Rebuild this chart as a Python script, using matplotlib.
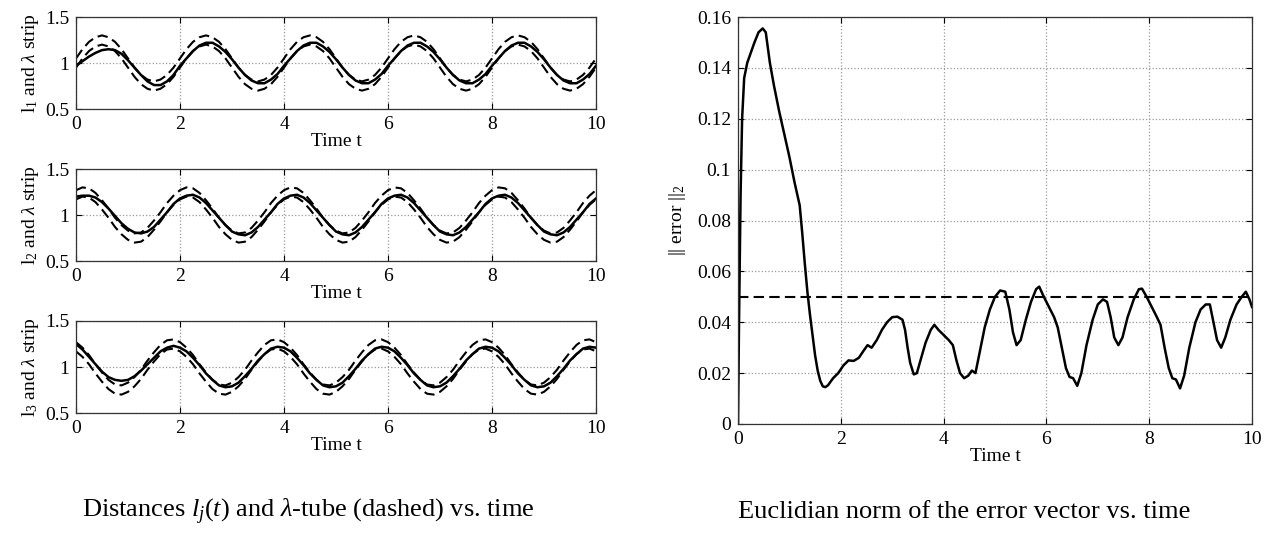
"""Distances l_j(t) with lambda-tube, and error norm vs. time."""

import matplotlib

matplotlib.use("Agg")
import matplotlib.pyplot as plt
import numpy as np

# -------------------------
# Data
# -------------------------
T_GRID = np.linspace(0.0, 10.0, 81)  # sample times, step 0.125
LAMBDA = 0.05  # half width of the lambda-tube

# reference distances (centre of the tube), one period per row
REF_1 = [
    1.00, 1.10, 1.18, 1.23, 1.25, 1.23, 1.18, 1.10, 1.00, 0.90, 0.82, 0.77, 0.75, 0.77, 0.82, 0.90,
    1.00, 1.10, 1.18, 1.23, 1.25, 1.23, 1.18, 1.10, 1.00, 0.90, 0.82, 0.77, 0.75, 0.77, 0.82, 0.90,
    1.00, 1.10, 1.18, 1.23, 1.25, 1.23, 1.18, 1.10, 1.00, 0.90, 0.82, 0.77, 0.75, 0.77, 0.82, 0.90,
    1.00, 1.10, 1.18, 1.23, 1.25, 1.23, 1.18, 1.10, 1.00, 0.90, 0.82, 0.77, 0.75, 0.77, 0.82, 0.90,
    1.00, 1.10, 1.18, 1.23, 1.25, 1.23, 1.18, 1.10, 1.00, 0.90, 0.82, 0.77, 0.75, 0.77, 0.82, 0.90,
    1.00,
]
REF_2 = [
    1.22, 1.25, 1.24, 1.19, 1.11, 1.02, 0.92, 0.84, 0.78, 0.75, 0.76, 0.81, 0.89, 0.98, 1.08, 1.16,
    1.22, 1.25, 1.24, 1.19, 1.11, 1.02, 0.92, 0.84, 0.78, 0.75, 0.76, 0.81, 0.89, 0.98, 1.08, 1.16,
    1.22, 1.25, 1.24, 1.19, 1.11, 1.02, 0.92, 0.84, 0.78, 0.75, 0.76, 0.81, 0.89, 0.98, 1.08, 1.16,
    1.22, 1.25, 1.24, 1.19, 1.11, 1.02, 0.92, 0.84, 0.78, 0.75, 0.76, 0.81, 0.89, 0.98, 1.08, 1.16,
    1.22, 1.25, 1.24, 1.19, 1.11, 1.02, 0.92, 0.84, 0.78, 0.75, 0.76, 0.81, 0.89, 0.98, 1.08, 1.16,
    1.22,
]
REF_3 = [
    1.22, 1.16, 1.08, 0.98, 0.89, 0.81, 0.76, 0.75, 0.78, 0.84, 0.92, 1.02, 1.11, 1.19, 1.24, 1.25,
    1.22, 1.16, 1.08, 0.98, 0.89, 0.81, 0.76, 0.75, 0.78, 0.84, 0.92, 1.02, 1.11, 1.19, 1.24, 1.25,
    1.22, 1.16, 1.08, 0.98, 0.89, 0.81, 0.76, 0.75, 0.78, 0.84, 0.92, 1.02, 1.11, 1.19, 1.24, 1.25,
    1.22, 1.16, 1.08, 0.98, 0.89, 0.81, 0.76, 0.75, 0.78, 0.84, 0.92, 1.02, 1.11, 1.19, 1.24, 1.25,
    1.22, 1.16, 1.08, 0.98, 0.89, 0.81, 0.76, 0.75, 0.78, 0.84, 0.92, 1.02, 1.11, 1.19, 1.24, 1.25,
    1.22,
]

# measured distances l_1, l_2, l_3
DIST_1 = [
    0.97, 1.02, 1.07, 1.11, 1.14, 1.15, 1.14, 1.10, 1.03, 0.95, 0.87, 0.80, 0.76, 0.76, 0.80, 0.87,
    0.97, 1.05, 1.13, 1.19, 1.22, 1.22, 1.18, 1.12, 1.04, 0.95, 0.87, 0.81, 0.78, 0.78, 0.82, 0.88,
    0.97, 1.05, 1.13, 1.19, 1.22, 1.22, 1.18, 1.12, 1.04, 0.95, 0.87, 0.81, 0.78, 0.78, 0.82, 0.88,
    0.97, 1.05, 1.13, 1.19, 1.22, 1.22, 1.18, 1.12, 1.04, 0.95, 0.87, 0.81, 0.78, 0.78, 0.82, 0.88,
    0.97, 1.05, 1.13, 1.19, 1.22, 1.22, 1.18, 1.12, 1.04, 0.95, 0.87, 0.81, 0.78, 0.78, 0.82, 0.88,
    0.97,
]
DIST_2 = [
    1.20, 1.21, 1.21, 1.19, 1.14, 1.07, 0.99, 0.91, 0.85, 0.81, 0.80, 0.82, 0.87, 0.95, 1.03, 1.12,
    1.18, 1.21, 1.22, 1.19, 1.13, 1.05, 0.97, 0.89, 0.82, 0.79, 0.78, 0.81, 0.87, 0.95, 1.03, 1.12,
    1.18, 1.21, 1.22, 1.19, 1.13, 1.05, 0.97, 0.89, 0.82, 0.79, 0.78, 0.81, 0.87, 0.95, 1.03, 1.12,
    1.18, 1.21, 1.22, 1.19, 1.13, 1.05, 0.97, 0.89, 0.82, 0.79, 0.78, 0.81, 0.87, 0.95, 1.03, 1.12,
    1.18, 1.21, 1.22, 1.19, 1.13, 1.05, 0.97, 0.89, 0.82, 0.79, 0.78, 0.81, 0.87, 0.95, 1.03, 1.12,
    1.18,
]
DIST_3 = [
    1.25, 1.19, 1.11, 1.03, 0.95, 0.89, 0.86, 0.85, 0.86, 0.90, 0.96, 1.03, 1.10, 1.17, 1.21, 1.23,
    1.21, 1.17, 1.10, 1.02, 0.93, 0.86, 0.80, 0.78, 0.79, 0.83, 0.90, 0.98, 1.07, 1.14, 1.20, 1.22,
    1.21, 1.17, 1.10, 1.02, 0.93, 0.86, 0.80, 0.78, 0.79, 0.83, 0.90, 0.98, 1.07, 1.14, 1.20, 1.22,
    1.21, 1.17, 1.10, 1.02, 0.93, 0.86, 0.80, 0.78, 0.79, 0.83, 0.90, 0.98, 1.07, 1.14, 1.20, 1.22,
    1.21, 1.17, 1.10, 1.02, 0.93, 0.86, 0.80, 0.78, 0.79, 0.83, 0.90, 0.98, 1.07, 1.14, 1.20, 1.22,
    1.21,
]

# error norm (irregular sampling, denser where the curve bends)
ERR_T = [
    0.00, 0.02, 0.05, 0.08, 0.12, 0.18, 0.25, 0.32, 0.40, 0.48, 0.54, 0.58, 0.62, 0.70, 0.80,
    0.90, 1.00, 1.10, 1.20, 1.25, 1.30, 1.35, 1.40, 1.45, 1.50, 1.55, 1.60, 1.65, 1.70, 1.75,
    1.85, 1.95, 2.05, 2.15, 2.25, 2.35, 2.45, 2.52, 2.60, 2.70, 2.80, 2.90, 3.00, 3.10, 3.20,
    3.25, 3.30, 3.35, 3.42, 3.48, 3.55, 3.65, 3.75, 3.82, 3.90, 4.00, 4.10, 4.18, 4.25, 4.32,
    4.40, 4.48, 4.55, 4.62, 4.70, 4.80, 4.90, 5.00, 5.10, 5.20, 5.28, 5.35, 5.42, 5.50, 5.60,
    5.70, 5.80, 5.86, 5.95, 6.05, 6.15, 6.22, 6.30, 6.38, 6.45, 6.52, 6.60, 6.68, 6.78, 6.90,
    7.00, 7.10, 7.18, 7.25, 7.32, 7.40, 7.48, 7.58, 7.70, 7.80, 7.86, 7.95, 8.05, 8.15, 8.22,
    8.30, 8.38, 8.45, 8.52, 8.60, 8.68, 8.78, 8.90, 9.00, 9.10, 9.18, 9.25, 9.32, 9.40, 9.48,
    9.58, 9.70, 9.80, 9.88, 9.95, 10.00,
]
ERR_V = [
    0.000, 0.040, 0.090, 0.120, 0.136, 0.142, 0.146, 0.150, 0.154, 0.1555, 0.154, 0.148, 0.142, 0.133, 0.123,
    0.114, 0.105, 0.095, 0.086, 0.075, 0.063, 0.052, 0.043, 0.035, 0.027, 0.021, 0.017, 0.0148, 0.0145, 0.0152,
    0.018, 0.020, 0.023, 0.025, 0.0248, 0.026, 0.029, 0.031, 0.030, 0.033, 0.037, 0.040, 0.042, 0.0422, 0.041,
    0.037, 0.030, 0.024, 0.0195, 0.020, 0.025, 0.032, 0.037, 0.039, 0.037, 0.035, 0.033, 0.031, 0.025, 0.020,
    0.018, 0.019, 0.021, 0.020, 0.028, 0.038, 0.045, 0.050, 0.0525, 0.052, 0.045, 0.036, 0.031, 0.033, 0.041,
    0.048, 0.053, 0.054, 0.050, 0.046, 0.042, 0.038, 0.030, 0.022, 0.0185, 0.018, 0.015, 0.020, 0.031, 0.041,
    0.047, 0.049, 0.048, 0.042, 0.034, 0.031, 0.034, 0.042, 0.049, 0.053, 0.0532, 0.050, 0.046, 0.042, 0.039,
    0.030, 0.022, 0.018, 0.0175, 0.014, 0.019, 0.030, 0.040, 0.045, 0.047, 0.047, 0.040, 0.033, 0.030, 0.034,
    0.041, 0.047, 0.050, 0.052, 0.049, 0.046,
]
ERR_BOUND = 0.05

X_TICKS = [0, 2, 4, 6, 8, 10]
L_TICKS = [0.5, 1.0, 1.5]
L_TICK_LABELS = ["0.5", "1", "1.5"]
E_TICKS = [0.0, 0.02, 0.04, 0.06, 0.08, 0.10, 0.12, 0.14, 0.16]
E_TICK_LABELS = ["0", "0.02", "0.04", "0.06", "0.08", "0.1", "0.12", "0.14", "0.16"]

CAPTION_LEFT = r"Distances $l_j(t)$ and $\lambda$-tube (dashed) vs. time"
CAPTION_RIGHT = "Euclidian norm of the error vector vs. time"

plt.rcParams["font.family"] = ["Liberation Serif", "DejaVu Serif"]
plt.rcParams["mathtext.fontset"] = "custom"
plt.rcParams["mathtext.rm"] = "Liberation Serif"
plt.rcParams["mathtext.it"] = "Liberation Serif:italic"
plt.rcParams["font.size"] = 14

DASHES = (5, 2.5)


def style_axes(ax):
    ax.tick_params(direction="in", top=True, right=True, length=4, width=0.8,
                   labelsize=14, pad=5)
    ax.grid(True, linestyle=":", color="#9a9a9a", linewidth=0.9)
    for spine in ax.spines.values():
        spine.set_linewidth(0.9)
        spine.set_color("#333333")


def main():
    fig = plt.figure(figsize=(12.72, 5.42), dpi=100)

    left_x, left_w = 76 / 1272, 520 / 1272
    panel_tops = [17, 169, 321]
    panel_h = 92
    panels = [(REF_1, DIST_1, "1"), (REF_2, DIST_2, "2"), (REF_3, DIST_3, "3")]

    for top, (ref, dist, idx) in zip(panel_tops, panels):
        bottom = 1 - (top + panel_h) / 542
        ax = fig.add_axes([left_x, bottom, left_w, panel_h / 542])
        ref = np.asarray(ref)
        ax.plot(T_GRID, ref + LAMBDA, color="black", linewidth=1.5, linestyle="--", dashes=DASHES)
        ax.plot(T_GRID, ref - LAMBDA, color="black", linewidth=1.5, linestyle="--", dashes=DASHES)
        ax.plot(T_GRID, dist, color="black", linewidth=1.8)
        ax.set_xlim(0, 10)
        ax.set_ylim(0.5, 1.5)
        ax.set_xticks(X_TICKS)
        ax.set_yticks(L_TICKS)
        ax.set_yticklabels(L_TICK_LABELS)
        ax.set_xlabel("Time t", fontsize=14, labelpad=0)
        ax.set_ylabel(rf"l$_{idx}$ and $\lambda$ strip", fontsize=14, labelpad=3)
        style_axes(ax)

    ax = fig.add_axes([738 / 1272, 1 - 424 / 542, 514 / 1272, 407 / 542])
    ax.plot(ERR_T, ERR_V, color="black", linewidth=1.8)
    ax.axhline(ERR_BOUND, color="black", linewidth=1.5, linestyle="--", dashes=DASHES)
    ax.set_xlim(0, 10)
    ax.set_ylim(0, 0.16)
    ax.set_xticks(X_TICKS)
    ax.set_yticks(E_TICKS)
    ax.set_yticklabels(E_TICK_LABELS)
    ax.set_xlabel("Time t", fontsize=14, labelpad=0)
    ax.set_ylabel(r"|| error ||$_2$", fontsize=14, labelpad=6)
    style_axes(ax)

    fig.text(308 / 1272, 1 - 512 / 542, CAPTION_LEFT, ha="center", va="center", fontsize=19)
    fig.text(964 / 1272, 1 - 512 / 542, CAPTION_RIGHT, ha="center", va="center", fontsize=19)

    fig.savefig("out.png", dpi=100)
    plt.close(fig)


if __name__ == "__main__":
    main()
